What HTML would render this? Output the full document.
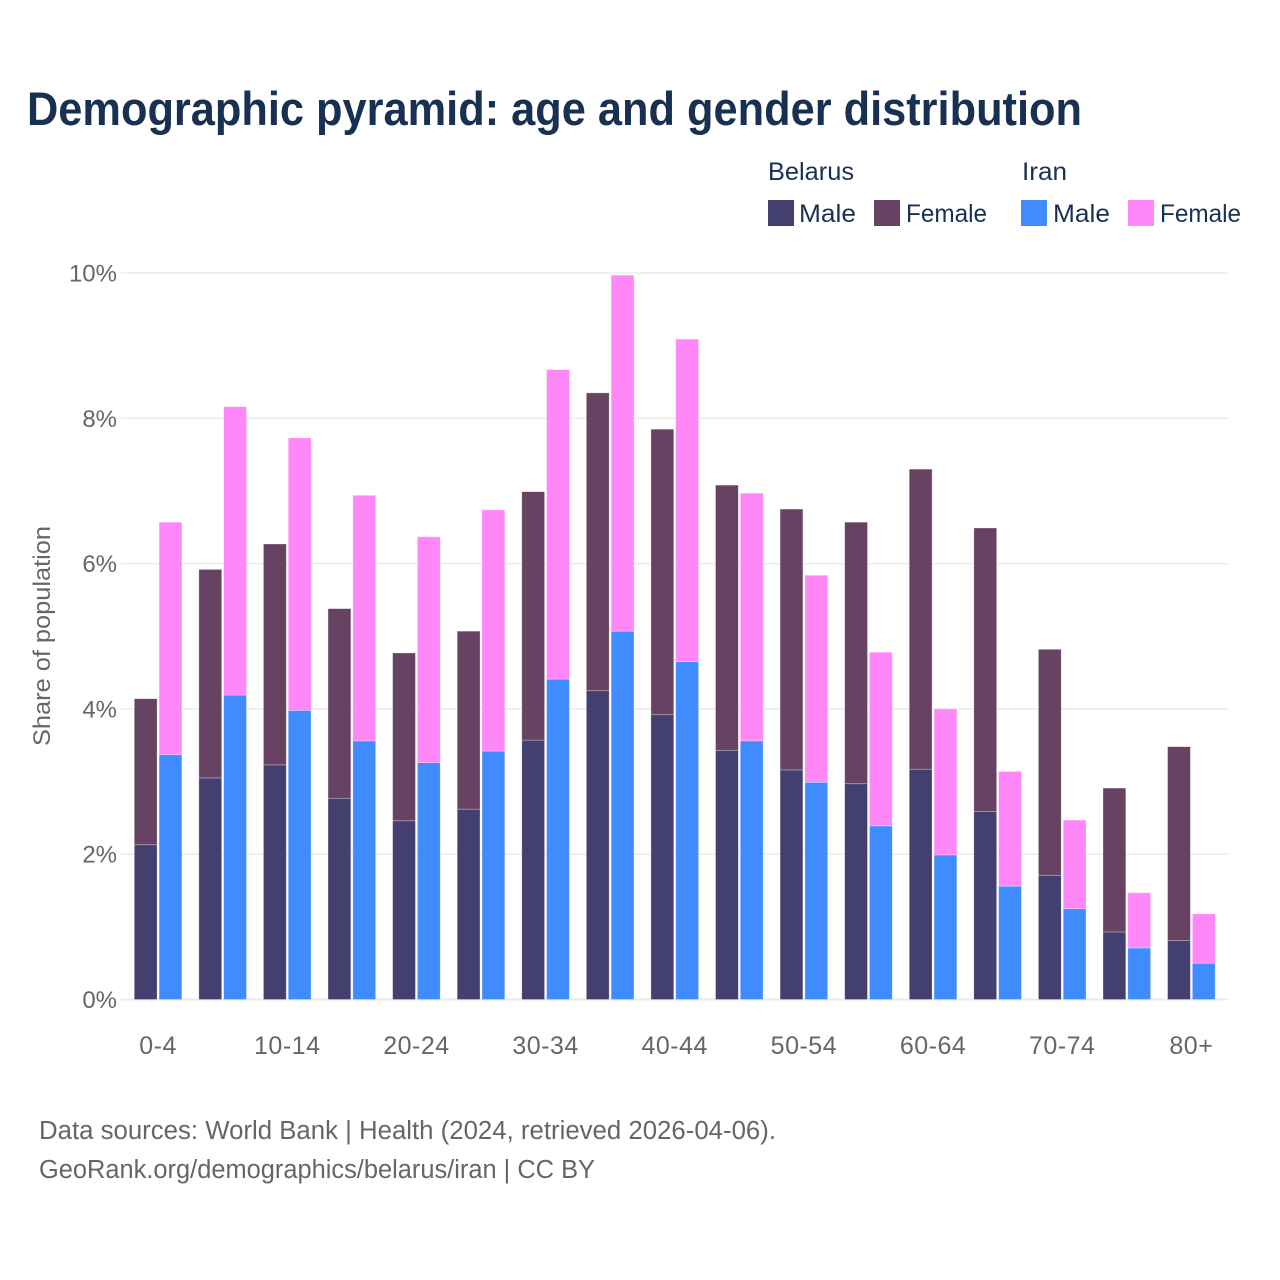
<!DOCTYPE html>
<html lang="en">
<head>
<meta charset="utf-8">
<title>Demographic pyramid: age and gender distribution</title>
<style>
html,body{margin:0;padding:0;background:#fff;width:1280px;height:1280px;overflow:hidden}
svg{display:block}
text{font-family:"Liberation Sans",sans-serif}
</style>
</head>
<body>
<svg id="chart" xmlns="http://www.w3.org/2000/svg" width="1280" height="1280" viewBox="0 0 1280 1280">
  <rect x="0" y="0" width="1280" height="1280" fill="#ffffff"/>
  <text x="27" y="125" font-size="47" font-weight="700" fill="#183153" textLength="1055" lengthAdjust="spacingAndGlyphs">Demographic pyramid: age and gender distribution</text>
  <g id="grid"></g>
  <g id="bars"></g>
  <g id="yticks"></g>
  <g id="xticks"></g>
  <text transform="translate(50,636) rotate(-90)" text-anchor="middle" font-size="24" fill="#666666" textLength="220" lengthAdjust="spacingAndGlyphs">Share of population</text>
  <g>
    <text x="768" y="180" font-size="25" fill="#183153" textLength="86" lengthAdjust="spacingAndGlyphs">Belarus</text>
    <rect x="768" y="200" width="26" height="26" fill="#434070"/>
    <text x="799" y="222" font-size="25" fill="#183153" textLength="57" lengthAdjust="spacingAndGlyphs">Male</text>
    <rect x="874" y="200" width="26" height="26" fill="#684263"/>
    <text x="906" y="222" font-size="25" fill="#183153" textLength="81" lengthAdjust="spacingAndGlyphs">Female</text>
    <text x="1022" y="180" font-size="25" fill="#183153" textLength="45" lengthAdjust="spacingAndGlyphs">Iran</text>
    <rect x="1021" y="200" width="26" height="26" fill="#408cff"/>
    <text x="1053" y="222" font-size="25" fill="#183153" textLength="57" lengthAdjust="spacingAndGlyphs">Male</text>
    <rect x="1128" y="200" width="26" height="26" fill="#ff87f8"/>
    <text x="1160" y="222" font-size="25" fill="#183153" textLength="81" lengthAdjust="spacingAndGlyphs">Female</text>
  </g>
  <text x="39" y="1139" font-size="25.5" fill="#666666" textLength="737" lengthAdjust="spacingAndGlyphs">Data sources: World Bank | Health (2024, retrieved 2026-04-06).</text>
  <text x="39" y="1178" font-size="25.5" fill="#666666" textLength="556" lengthAdjust="spacingAndGlyphs">GeoRank.org/demographics/belarus/iran | CC BY</text>
</svg>
<script>
const ageGroups = ["0-4","5-9","10-14","15-19","20-24","25-29","30-34","35-39","40-44","45-49","50-54","55-59","60-64","65-69","70-74","75-79","80+"];
const xTickLabels = ["0-4","10-14","20-24","30-34","40-44","50-54","60-64","70-74","80+"];
const yTickValues = [0,2,4,6,8,10];
const belarusMale = [2.13,3.05,3.23,2.77,2.46,2.62,3.57,4.25,3.92,3.43,3.16,2.97,3.17,2.59,1.71,0.93,0.81];
const belarusFemale = [2.01,2.87,3.04,2.61,2.31,2.45,3.42,4.10,3.93,3.65,3.59,3.60,4.13,3.90,3.11,1.98,2.67];
const iranMale = [3.37,4.19,3.98,3.56,3.26,3.42,4.41,5.07,4.65,3.56,2.99,2.39,1.99,1.56,1.25,0.71,0.50];
const iranFemale = [3.20,3.97,3.75,3.38,3.11,3.32,4.26,4.90,4.44,3.41,2.85,2.39,2.01,1.58,1.22,0.76,0.68];

const NS = "http://www.w3.org/2000/svg";
const PLOT_LEFT = 121, PLOT_RIGHT = 1228, Y0 = 999.5, Y10 = 273;
const FIRST_CENTER = 158.1, STEP = 64.58, BAR_W = 22.8, BAR_GAP = 2.0;

function yScale(v){ return Y0 - (v / 10) * (Y0 - Y10); }
function xCenter(i){ return FIRST_CENTER + i * STEP; }

const grid = document.getElementById("grid");
const yticks = document.getElementById("yticks");
const xticks = document.getElementById("xticks");
const bars = document.getElementById("bars");

yTickValues.forEach(function(v){
  const line = document.createElementNS(NS, "line");
  
  
  line.setAttribute("x1", PLOT_LEFT);
  line.setAttribute("x2", PLOT_RIGHT);
  line.setAttribute("y1", yScale(v));
  line.setAttribute("y2", yScale(v));
  line.setAttribute("stroke", "#ebebeb");
  line.setAttribute("stroke-width", v === 0 ? 2 : 1.5);
  grid.appendChild(line);

  const t = document.createElementNS(NS, "text");
  
  
  t.setAttribute("x", 117);
  t.setAttribute("y", yScale(v) + 8.5);
  t.setAttribute("text-anchor", "end");
  t.setAttribute("font-size", "24");
  t.setAttribute("fill", "#666666");
  t.textContent = v + "%";
  yticks.appendChild(t);
});

xTickLabels.forEach(function(label){
  const t = document.createElementNS(NS, "text");
  
  
  t.setAttribute("x", xCenter(ageGroups.indexOf(label)));
  t.setAttribute("y", 1054);
  t.setAttribute("text-anchor", "middle");
  t.setAttribute("font-size", "25");
  t.setAttribute("letter-spacing", "0.5");
  t.setAttribute("fill", "#666666");
  t.textContent = label;
  xticks.appendChild(t);
});

function drawSegment(x, v0, v1, color, group){
  const r = document.createElementNS(NS, "rect");
  
  
  r.setAttribute("x", x);
  r.setAttribute("y", yScale(v1));
  r.setAttribute("width", BAR_W);
  r.setAttribute("height", yScale(v0) - yScale(v1));
  r.setAttribute("fill", color);
  r.setAttribute("stroke", "#ffffff");
  r.setAttribute("stroke-opacity", "0.4");
  r.setAttribute("stroke-width", "0.7");
  const tip = document.createElementNS(NS, "title");
  tip.textContent = group;
  r.appendChild(tip);
  bars.appendChild(r);
}

ageGroups.forEach(function(g, i){
  const c = xCenter(i);
  const xB = c - BAR_GAP / 2 - BAR_W;
  const xI = c + BAR_GAP / 2;
  drawSegment(xB, 0, belarusMale[i], "#434070", "Belarus male " + g);
  drawSegment(xB, belarusMale[i], belarusMale[i] + belarusFemale[i], "#684263", "Belarus female " + g);
  drawSegment(xI, 0, iranMale[i], "#408cff", "Iran male " + g);
  drawSegment(xI, iranMale[i], iranMale[i] + iranFemale[i], "#ff87f8", "Iran female " + g);
});
</script>
</body>
</html>
